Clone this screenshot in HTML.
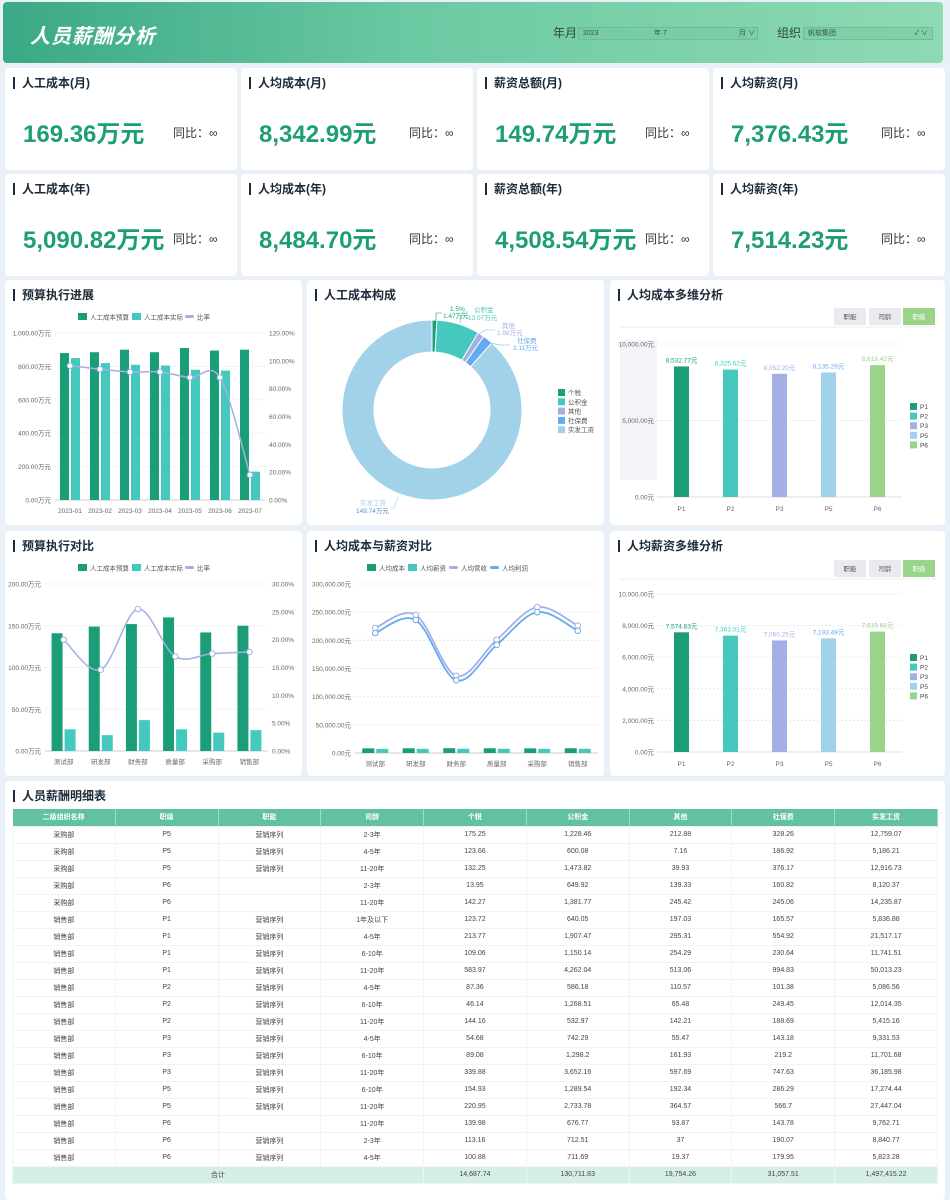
<!DOCTYPE html>
<html><head><meta charset="utf-8">
<style>
*{box-sizing:border-box;margin:0;padding:0}
body{width:950px;height:1200px;background:#eaf0f8;font-family:"Liberation Sans","Noto Sans CJK SC",sans-serif;position:relative;overflow:hidden;color:#333}
.hdr{position:absolute;left:3px;top:2px;width:940px;height:61px;border-radius:4px;background:linear-gradient(90deg,#3aa985 0%,#6ccaa3 45%,#8fd9b3 100%)}
.hdr h1{position:absolute;left:27px;top:18px;color:#fff;font-size:20px;font-style:italic;font-weight:bold;letter-spacing:1px}
.lbl{position:absolute;font-size:12px;color:#2a4a3a}
.sel{position:absolute;height:13px;border:1px solid #6bbf98;background:rgba(120,200,160,.5);font-size:7px;color:#355;line-height:11px;padding-left:4px}
.card{position:absolute;background:#fff;border-radius:4px}
.ct{position:absolute;left:8px;top:9px;font-size:12px;font-weight:bold;color:#1c2b3a;padding-left:7px;border-left:2px solid #1c2b3a;line-height:12px}
.kv{position:absolute;left:18px;top:46px;font-size:24px;font-weight:bold;color:#1e9e74}
.yoy{position:absolute;left:168px;top:56px;font-size:12px;color:#333}
svg text{font-family:"Liberation Sans","Noto Sans CJK SC",sans-serif}
table{position:absolute;left:12px;top:809px;width:926px;border-collapse:collapse;font-size:7px;color:#444;table-layout:fixed}
th{background:#62c1a3;color:#fff;height:17px;font-weight:bold;border-right:1px solid #9fdcc6}
td{height:17px;text-align:center;border:1px solid #eef5f2}
tr.tot td{background:#d6efe6}
</style></head><body>
<div class="hdr"><h1>人员薪酬分析</h1>
<div class="lbl" style="left:550px;top:22px">年月</div>
<div class="sel" style="left:575px;top:25px;width:180px">2023<span style="position:absolute;left:75px">年 7</span><span style="position:absolute;left:160px">月 ∨</span></div>
<div class="lbl" style="left:774px;top:22px">组织</div>
<div class="sel" style="left:800px;top:25px;width:130px">帆软集团<span style="position:absolute;right:4px">✓ ∨</span></div>
</div>

<div class="card" style="left:5px;top:68px;width:232px;height:102px"><div class="ct">人工成本(月)</div><div class="kv">169.36万元</div><div class="yoy">同比：∞</div></div>
<div class="card" style="left:241px;top:68px;width:232px;height:102px"><div class="ct">人均成本(月)</div><div class="kv">8,342.99元</div><div class="yoy">同比：∞</div></div>
<div class="card" style="left:477px;top:68px;width:232px;height:102px"><div class="ct">薪资总额(月)</div><div class="kv">149.74万元</div><div class="yoy">同比：∞</div></div>
<div class="card" style="left:713px;top:68px;width:232px;height:102px"><div class="ct">人均薪资(月)</div><div class="kv">7,376.43元</div><div class="yoy">同比：∞</div></div>
<div class="card" style="left:5px;top:174px;width:232px;height:102px"><div class="ct">人工成本(年)</div><div class="kv">5,090.82万元</div><div class="yoy">同比：∞</div></div>
<div class="card" style="left:241px;top:174px;width:232px;height:102px"><div class="ct">人均成本(年)</div><div class="kv">8,484.70元</div><div class="yoy">同比：∞</div></div>
<div class="card" style="left:477px;top:174px;width:232px;height:102px"><div class="ct">薪资总额(年)</div><div class="kv">4,508.54万元</div><div class="yoy">同比：∞</div></div>
<div class="card" style="left:713px;top:174px;width:232px;height:102px"><div class="ct">人均薪资(年)</div><div class="kv">7,514.23元</div><div class="yoy">同比：∞</div></div>

<div class="card" style="left:5px;top:280px;width:297px;height:245px"><div class="ct">预算执行进展</div></div>
<div class="card" style="left:307px;top:280px;width:297px;height:245px"><div class="ct">人工成本构成</div></div>
<div class="card" style="left:610px;top:280px;width:335px;height:245px"><div class="ct">人均成本多维分析</div></div>
<div class="card" style="left:5px;top:531px;width:297px;height:245px"><div class="ct">预算执行对比</div></div>
<div class="card" style="left:307px;top:531px;width:297px;height:245px"><div class="ct">人均成本与薪资对比</div></div>
<div class="card" style="left:610px;top:531px;width:335px;height:245px"><div class="ct">人均薪资多维分析</div></div>
<div class="card" style="left:5px;top:781px;width:940px;height:419px"><div class="ct">人员薪酬明细表</div></div>

<svg id="charts" width="950" height="1200" style="position:absolute;left:0;top:0"></svg>

<table>
<thead><tr><th>二级组织名称</th><th>职级</th><th>职能</th><th>司龄</th><th>个税</th><th>公积金</th><th>其他</th><th>社保费</th><th>实发工资</th></tr></thead>
<tbody id="tb"></tbody></table>

<script>
// ---- chart 1 data ----
const c1Cats=['2023-01','2023-02','2023-03','2023-04','2023-05','2023-06','2023-07'];
const c1Budget=[880,885,900,885,910,895,900];
const c1Actual=[850,820,810,805,780,775,170];
const c1Ratio=[96.5,94,92,92,88,88,18];
const c1LeftTicks=[0,200,400,600,800,1000];
const c1RightTicks=[0,20,40,60,80,100,120];
// ---- chart 4 data ----
const c4Cats=['测试部','研发部','财务部','质量部','采购部','销售部'];
const c4Budget=[141,149,152,160,142,150];
const c4Actual=[26,19,37,26,22,25];
const c4Ratio=[20,14.6,25.5,17,17.5,17.8];
const c4LeftTicks=[0,50,100,150,200];
const c4RightTicks=[0,5,10,15,20,25,30];
// ---- chart 5 data ----
const c5Cats=['测试部','研发部','财务部','质量部','采购部','销售部'];
const c5Cost=[8300,8400,8500,8400,8300,8450];
const c5Salary=[7300,7400,7500,7400,7300,7450];
const c5Revenue=[222000,245000,137000,201000,259000,226000];
const c5Profit=[213000,236000,129000,192000,250000,217000];
const c5Ticks=[0,50000,100000,150000,200000,250000,300000];
// ---- chart 2 data ----
const c2Names=['个税','公积金','其他','社保费','实发工资'];
const c2Values=[1.47,13.07,1.98,3.11,149.74];
// ---- chart 3 / 6 data ----
const c3Cats=['P1','P2','P3','P5','P6'];
const c3Values=[8532.77,8325.62,8052.20,8135.29,8619.42];
const c3Ticks=[0,5000,10000];
const c6Cats=['P1','P2','P3','P5','P6'];
const c6Values=[7574.83,7363.01,7060.25,7193.49,7619.66];
const c6Ticks=[0,2000,4000,6000,8000,10000];
// ---- table data ----
const tRows=[
['采购部','P5','营销序列','2-3年','175.25','1,228.46','212.88','328.26','12,759.07'],
['采购部','P5','营销序列','4-5年','123.66','600.08','7.16','186.92','5,186.21'],
['采购部','P5','营销序列','11-20年','132.25','1,473.82','39.93','376.17','12,916.73'],
['采购部','P6','','2-3年','13.95','649.92','139.33','160.82','8,120.37'],
['采购部','P6','','11-20年','142.27','1,381.77','245.42','245.06','14,235.87'],
['销售部','P1','营销序列','1年及以下','123.72','640.05','197.03','165.57','5,836.88'],
['销售部','P1','营销序列','4-5年','213.77','1,907.47','295.31','554.92','21,517.17'],
['销售部','P1','营销序列','6-10年','109.06','1,150.14','254.29','230.64','11,741.51'],
['销售部','P1','营销序列','11-20年','583.97','4,262.04','513.06','994.83','50,013.23'],
['销售部','P2','营销序列','4-5年','87.36','586.18','110.57','101.38','5,086.56'],
['销售部','P2','营销序列','6-10年','46.14','1,268.51','65.48','249.45','12,014.35'],
['销售部','P2','营销序列','11-20年','144.16','532.97','142.21','188.69','5,415.16'],
['销售部','P3','营销序列','4-5年','54.68','742.29','55.47','143.18','9,331.53'],
['销售部','P3','营销序列','6-10年','89.08','1,298.2','161.93','219.2','11,701.68'],
['销售部','P3','营销序列','11-20年','339.88','3,652.16','597.69','747.63','36,185.98'],
['销售部','P5','营销序列','6-10年','154.93','1,289.54','192.34','286.29','17,274.44'],
['销售部','P5','营销序列','11-20年','220.95','2,733.78','364.57','566.7','27,447.04'],
['销售部','P6','','11-20年','139.98','676.77','93.87','143.78','9,762.71'],
['销售部','P6','营销序列','2-3年','113.16','712.51','37','190.07','8,840.77'],
['销售部','P6','营销序列','4-5年','100.88','711.69','19.37','179.95','5,823.28']];
const tTotal=['14,687.74','130,711.83','19,754.26','31,057.51','1,497,415.22'];

const NS='http://www.w3.org/2000/svg';
const svg=document.getElementById('charts');
function el(tag,a,parent){const e=document.createElementNS(NS,tag);for(const k in a)e.setAttribute(k,a[k]);(parent||svg).appendChild(e);return e;}
function txt(x,y,s,a){const t=el('text',Object.assign({x:x,y:y,'font-size':7,fill:'#666'},a||{}));t.textContent=s;return t;}
function smooth(p){let d='M'+p[0][0]+','+p[0][1];for(let i=0;i<p.length-1;i++){const p0=p[i-1]||p[i],p1=p[i],p2=p[i+1],p3=p[i+2]||p2;d+=' C'+(p1[0]+(p2[0]-p0[0])/6)+','+(p1[1]+(p2[1]-p0[1])/6)+' '+(p2[0]-(p3[0]-p1[0])/6)+','+(p2[1]-(p3[1]-p1[1])/6)+' '+p2[0]+','+p2[1];}return d;}
function fmt(v,d){return v.toLocaleString('en-US',{minimumFractionDigits:d,maximumFractionDigits:d});}
function legendItem(x,y,color,label,line){
  const g=el('g',{});
  
  
  if(line) el('rect',{x:x,y:y+2,width:9,height:3,rx:1.5,fill:color},g); else el('rect',{x:x,y:y,width:9,height:7,fill:color},g);
  const t=el('text',{x:x+12,y:y+6.5,'font-size':6.5,fill:'#555'},g);t.textContent=label;
}

function combo(cfg){
  const {x0,x1,y0,y1,cats,b1,b2,ratio,lt,rt,lmax,rmax,lfmt,rfmt,barW}=cfg;
  const ys=v=>y0-(v/lmax)*(y0-y1), yr=v=>y0-(v/rmax)*(y0-y1);
  const bw=(x1-x0)/cats.length;
  lt.forEach(v=>{el('line',{x1:x0,x2:x1,y1:ys(v),y2:ys(v),stroke:'#e8e8e8','stroke-dasharray':'2,2'});txt(x0-4,ys(v)+2.5,lfmt(v),{'text-anchor':'end','font-size':6.5});});
  rt.forEach(v=>{txt(x1+4,yr(v)+2.5,rfmt(v),{'font-size':6.5});});
  el('line',{x1:x0,x2:x1,y1:y0,y2:y0,stroke:'#ccc'});
  const pts=[];
  cats.forEach((c,i)=>{const cx=x0+bw*(i+0.5);
    const r1=el('rect',{x:cx-barW-1,y:ys(b1[i]),width:barW,height:y0-ys(b1[i]),fill:'#1a9e78'});
    
    
    const r2=el('rect',{x:cx+1,y:ys(b2[i]),width:barW,height:y0-ys(b2[i]),fill:'#45c9be'});
    
    
    txt(cx,y0+13,c,{'text-anchor':'middle','font-size':6.5});
    pts.push([cx,yr(ratio[i])]);});
  const p=el('path',{d:smooth(pts),fill:'none',stroke:'#a3b0e6','stroke-width':1.5});
  
  
  pts.forEach(q=>{const c=el('circle',{cx:q[0],cy:q[1],r:2.8,fill:'#fff',stroke:'#a3b0e6','stroke-width':1});
    
    });
}
function comboLegend(y){legendItem(78,y,'#1a9e78','人工成本预算');legendItem(132,y,'#45c9be','人工成本实际');legendItem(185,y,'#a3b0e6','比率',true);}

combo({x0:55,x1:265,y0:500,y1:333,cats:c1Cats,b1:c1Budget,b2:c1Actual,ratio:c1Ratio,lt:c1LeftTicks,rt:c1RightTicks,lmax:1000,rmax:120,lfmt:v=>fmt(v,2)+'万元',rfmt:v=>v.toFixed(2)+'%',barW:9});
comboLegend(313);
combo({x0:45,x1:268,y0:751,y1:584,cats:c4Cats,b1:c4Budget,b2:c4Actual,ratio:c4Ratio,lt:c4LeftTicks,rt:c4RightTicks,lmax:200,rmax:30,lfmt:v=>fmt(v,2)+'万元',rfmt:v=>v.toFixed(2)+'%',barW:11});
comboLegend(564);

(function(){
  const x0=355,x1=598,y0=753,y1=584,max=300000;const ys=v=>y0-(v/max)*(y0-y1);const bw=(x1-x0)/c5Cats.length;
  c5Ticks.forEach(v=>{el('line',{x1:x0,x2:x1,y1:ys(v),y2:ys(v),stroke:'#e8e8e8','stroke-dasharray':'2,2'});txt(x0-4,ys(v)+2.5,fmt(v,2)+'元',{'text-anchor':'end','font-size':6.5});});
  el('line',{x1:x0,x2:x1,y1:y0,y2:y0,stroke:'#ccc'});
  const pr=[],pp=[];
  c5Cats.forEach((c,i)=>{const cx=x0+bw*(i+0.5);
    const a=el('rect',{x:cx-13,y:ys(c5Cost[i]),width:12,height:y0-ys(c5Cost[i]),fill:'#1a9e78'});
    
    
    const b=el('rect',{x:cx+1,y:ys(c5Salary[i]),width:12,height:y0-ys(c5Salary[i]),fill:'#45c9be'});
    
    
    txt(cx,y0+13,c,{'text-anchor':'middle','font-size':6.5});
    pr.push([cx,ys(c5Revenue[i])]);pp.push([cx,ys(c5Profit[i])]);});
  [[pr,'#a3b0e6','line-avg-revenue'],[pp,'#63aaf0','line-avg-profit']].forEach(s=>{
    const p=el('path',{d:smooth(s[0]),fill:'none',stroke:s[1],'stroke-width':1.8});
    
    
    s[0].forEach(q=>{const c=el('circle',{cx:q[0],cy:q[1],r:2.8,fill:'#fff',stroke:s[1]});
      
      });});
  legendItem(367,564,'#1a9e78','人均成本');legendItem(408,564,'#45c9be','人均薪资');legendItem(449,564,'#a3b0e6','人均营收',true);legendItem(490,564,'#63aaf0','人均利润',true);
})();

(function(){
  const cx=432,cy=410,R=90,r=58,colors=['#1a9e78','#45c9be','#a3b0e6','#63aaf0','#a2d1ea'];
  const tot=c2Values.reduce((a,b)=>a+b,0);let a0=-Math.PI/2;
  c2Values.forEach((v,i)=>{const a1=a0+v/tot*Math.PI*2;const lg=a1-a0>Math.PI?1:0;
    const P=(rad,a)=>[cx+rad*Math.cos(a),cy+rad*Math.sin(a)];
    const [x1,y1]=P(R,a0),[x2,y2]=P(R,a1),[x3,y3]=P(r,a1),[x4,y4]=P(r,a0);
    const s=el('path',{d:`M${x1},${y1} A${R},${R} 0 ${lg} 1 ${x2},${y2} L${x3},${y3} A${r},${r} 0 ${lg} 0 ${x4},${y4}Z`,fill:colors[i],stroke:'#fff','stroke-width':1});
    
    
    a0=a1;});
  const lab=[[450,311,'1.5%',colors[0]],[443,318,'1.47万元',colors[0]],[474,312,'公积金',colors[1]],[468,320,'13.07万元',colors[1]],[502,328,'其他',colors[2]],[497,335,'1.98万元',colors[2]],[517,343,'社保费',colors[3]],[513,350,'3.11万元',colors[3]],[360,505,'实发工资',colors[4]],[356,513,'149.74万元','#5b8fc0']];
  lab.forEach(l=>txt(l[0],l[1],l[2],{fill:l[3],'font-size':6.5}));
  el('polyline',{points:'436,323 436,313 442,313',fill:'none',stroke:colors[0],'stroke-width':.6});
  el('polyline',{points:'460,323 463,312 468,312',fill:'none',stroke:colors[1],'stroke-width':.6});
  el('polyline',{points:'478,335 485,330 495,330',fill:'none',stroke:colors[2],'stroke-width':.6});
  el('polyline',{points:'486,342 500,345 510,345',fill:'none',stroke:colors[3],'stroke-width':.6});
  el('polyline',{points:'398,497 394,508 390,508',fill:'none',stroke:colors[4],'stroke-width':.6});
  c2Names.forEach((n,i)=>{const g=el('g',{});
    
    
    el('rect',{x:558,y:389+i*9.3,width:7,height:7,fill:colors[i]},g);
    const t=el('text',{x:568,y:395+i*9.3,'font-size':6.5,fill:'#555'},g);t.textContent=n;});
})();

function pbar(cfg){
  const {x0,x1,y0,y1,max,cats,vals,ticks,btnY,legY,shade}=cfg;const ys=v=>y0-(v/max)*(y0-y1);
  const colors=['#1a9e78','#45c9be','#a3b0e6','#a2d1ea','#9ad38a'];
  [['职能',834,'#e8eaee','#555'],['司龄',869,'#e8eaee','#555'],['职级',903,'#9ad38a','#fff']].forEach(b=>{
    const g=el('g',{});
    
    
    el('rect',{x:b[1],y:btnY,width:32,height:17,fill:b[2]},g);
    const t=el('text',{x:b[1]+16,y:btnY+11,'text-anchor':'middle','font-size':6.5,fill:b[3]},g);t.textContent=b[0];});
  el('line',{x1:620,x2:936,y1:btnY+19,y2:btnY+19,stroke:'#eee'});
  if(shade) el('rect',{x:620,y:y1-4,width:37,height:shade,fill:'#f3f4f7'});
  ticks.forEach(v=>{el('line',{x1:x0,x2:x1,y1:ys(v),y2:ys(v),stroke:'#e8e8e8','stroke-dasharray':'2,2'});txt(x0-3,ys(v)+2.5,fmt(v,2)+'元',{'text-anchor':'end','font-size':6.5});});
  el('line',{x1:x0,x2:x1,y1:y0,y2:y0,stroke:'#ddd'});
  const bw=(x1-x0)/cats.length;
  cats.forEach((c,i)=>{const cx=x0+bw*(i+0.5);
    const r=el('rect',{x:cx-7.5,y:ys(vals[i]),width:15,height:y0-ys(vals[i]),fill:colors[i]});
    
    
    txt(cx,ys(vals[i])-4,fmt(vals[i],2)+'元',{'text-anchor':'middle','font-size':6.5,fill:colors[i]==='#a2d1ea'?'#63aaf0':colors[i]});
    txt(cx,y0+14,c,{'text-anchor':'middle','font-size':6.5});
    const g=el('g',{});
    
    
    el('rect',{x:910,y:legY+i*9.6,width:7,height:7,fill:colors[i]},g);
    const t=el('text',{x:920,y:legY+6+i*9.6,'font-size':6.5,fill:'#444'},g);t.textContent=c;});
}
pbar({x0:657,x1:902,y0:497,y1:344,max:10000,cats:c3Cats,vals:c3Values,ticks:c3Ticks,btnY:308,legY:403,shade:140});
pbar({x0:657,x1:902,y0:752,y1:594,max:10000,cats:c6Cats,vals:c6Values,ticks:c6Ticks,btnY:560,legY:654});

const tb=document.getElementById('tb');
tRows.forEach(r=>{const tr=document.createElement('tr');
  
  
  tr.innerHTML=r.map(c=>'<td>'+c+'</td>').join('');tb.appendChild(tr);});
const tt=document.createElement('tr');tt.className='tot';


tt.innerHTML='<td colspan="4">合计</td>'+tTotal.map(c=>'<td>'+c+'</td>').join('');tb.appendChild(tt);
</script>
</body></html>
